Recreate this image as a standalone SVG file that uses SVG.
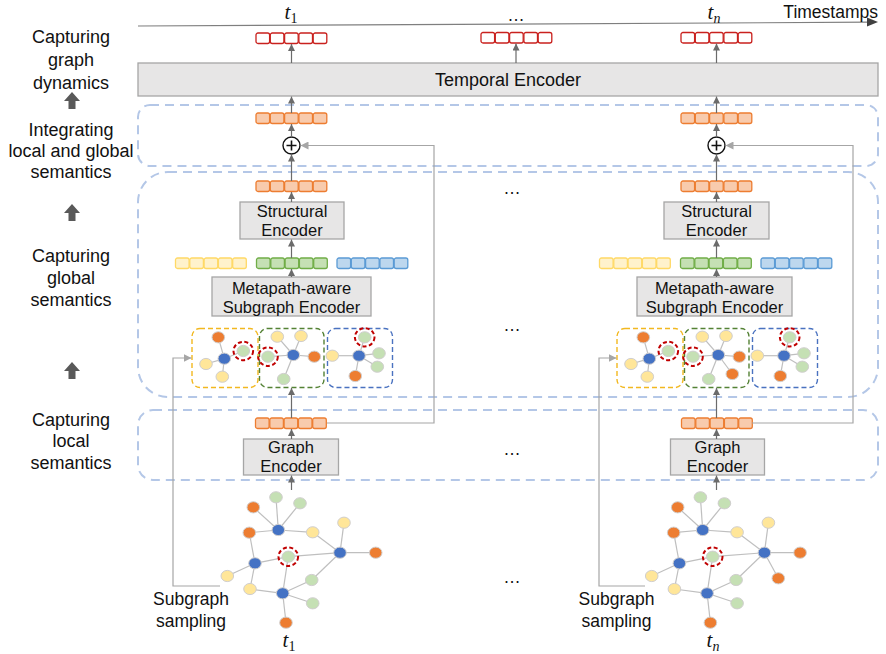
<svg xmlns="http://www.w3.org/2000/svg" xmlns:xlink="http://www.w3.org/1999/xlink" width="886" height="654" viewBox="0 0 886 654">
<style>
.lbl{font-family:"Liberation Sans",Arial,sans-serif;font-size:17.5px;fill:#111;text-anchor:middle}
.side{font-size:18px}
.btxt{font-family:"Liberation Sans",Arial,sans-serif;font-size:16.5px;fill:#111;text-anchor:middle}
.math{font-family:"Liberation Serif","Times New Roman",serif;font-size:21px;fill:#111;text-anchor:middle}
.box{fill:#e7e6e6;stroke:#a6a6a6;stroke-width:1.3}
.dash{fill:none;stroke:#b4c7e7;stroke-width:2;stroke-dasharray:9 6}
.conn{stroke:#6b6b6b;stroke-width:1.2;fill:none;marker-end:url(#ah)}
.fba{stroke:#a6a6a6;stroke-width:1.2;fill:none;marker-end:url(#ah2)}
.red{fill:#fff;stroke:#c9211e;stroke-width:1.3}
.org{fill:#f8cbad;stroke:#ed7d31;stroke-width:1.3}
.yel{fill:#fff2cc;stroke:#ffd966;stroke-width:1.3}
.grn{fill:#c5e0b4;stroke:#70ad47;stroke-width:1.3}
.blu{fill:#bdd7ee;stroke:#5b9bd5;stroke-width:1.3}
.edge{stroke:#bfbfbf;stroke-width:1.2}
.nO{fill:#ed7d31;stroke:#d0cece;stroke-width:1}
.nB{fill:#4472c4;stroke:#d0cece;stroke-width:1}
.nG{fill:#c5e0b4;stroke:#d0cece;stroke-width:1}
.nY{fill:#ffe699;stroke:#d0cece;stroke-width:1}
.ring{fill:none;stroke:#c00000;stroke-width:2;stroke-dasharray:4 2.5}
.sbY{fill:none;stroke:#f2b820;stroke-width:1.4;stroke-dasharray:5 3}
.sbG{fill:none;stroke:#548235;stroke-width:1.4;stroke-dasharray:5 3}
.sbB{fill:none;stroke:#4a72c0;stroke-width:1.4;stroke-dasharray:5 3}
.uparr{fill:#595959}
</style>
<defs>
<marker id="ah" viewBox="0 0 10 10" refX="10" refY="5" markerWidth="7" markerHeight="7" markerUnits="userSpaceOnUse" orient="auto"><path d="M0,0 L10,5 L0,10 Z" fill="#6b6b6b"/></marker>
<marker id="ah2" viewBox="0 0 10 10" refX="10" refY="5" markerWidth="8" markerHeight="8" markerUnits="userSpaceOnUse" orient="auto"><path d="M0,0 L10,5 L0,10 Z" fill="#a6a6a6"/></marker>
<g id="cells">
<rect x="0" y="0" width="13.6" height="10.5" rx="2"/>
<rect x="14.3" y="0" width="13.6" height="10.5" rx="2"/>
<rect x="28.6" y="0" width="13.6" height="10.5" rx="2"/>
<rect x="42.9" y="0" width="13.6" height="10.5" rx="2"/>
<rect x="57.2" y="0" width="13.6" height="10.5" rx="2"/>
</g>
<g id="subL">
<rect class="sbY" x="192" y="328.5" width="66" height="59" rx="8"/>
<rect class="sbG" x="259.5" y="328.5" width="64.5" height="59" rx="8"/>
<rect class="sbB" x="327.5" y="328.5" width="65" height="59" rx="8"/>
<g class="edge">
<line x1="224.3" y1="358.7" x2="218.3" y2="337.3"/><line x1="224.3" y1="358.7" x2="243.3" y2="351"/><line x1="224.3" y1="358.7" x2="206" y2="364"/><line x1="224.3" y1="358.7" x2="222.3" y2="376.7"/>
<line x1="293.3" y1="355" x2="277.3" y2="336.7"/><line x1="293.3" y1="355" x2="301" y2="336"/><line x1="293.3" y1="355" x2="268" y2="356.7"/><line x1="293.3" y1="355" x2="314.3" y2="356.7"/><line x1="293.3" y1="355" x2="283.7" y2="379"/>
<line x1="359" y1="355.7" x2="364.7" y2="337.3"/><line x1="359" y1="355.7" x2="332.3" y2="355.7"/><line x1="359" y1="355.7" x2="379" y2="353.3"/><line x1="359" y1="355.7" x2="377.3" y2="366.7"/><line x1="359" y1="355.7" x2="355.3" y2="376"/>
</g>
<ellipse class="nO" cx="218.3" cy="337.3" rx="6.3" ry="5.6"/><ellipse class="nB" cx="224.3" cy="358.7" rx="6.3" ry="5.6"/><ellipse class="nG" cx="243.3" cy="351" rx="6.3" ry="5.6"/><ellipse class="nY" cx="206" cy="364" rx="6.3" ry="5.6"/><ellipse class="nY" cx="222.3" cy="376.7" rx="6.3" ry="5.6"/>
<ellipse class="nY" cx="277.3" cy="336.7" rx="6.3" ry="5.6"/><ellipse class="nY" cx="301" cy="336" rx="6.3" ry="5.6"/><ellipse class="nG" cx="268" cy="356.7" rx="6.3" ry="5.6"/><ellipse class="nB" cx="293.3" cy="355" rx="6.3" ry="5.6"/><ellipse class="nO" cx="314.3" cy="356.7" rx="6.3" ry="5.6"/><ellipse class="nG" cx="283.7" cy="379" rx="6.3" ry="5.6"/>
<ellipse class="nG" cx="364.7" cy="337.3" rx="6.3" ry="5.6"/><ellipse class="nY" cx="332.3" cy="355.7" rx="6.3" ry="5.6"/><ellipse class="nB" cx="359" cy="355.7" rx="6.3" ry="5.6"/><ellipse class="nG" cx="379" cy="353.3" rx="6.3" ry="5.6"/><ellipse class="nG" cx="377.3" cy="366.7" rx="6.3" ry="5.6"/><ellipse class="nO" cx="355.3" cy="376" rx="6.3" ry="5.6"/>
<ellipse class="ring" cx="243.3" cy="351" rx="9.8" ry="9.2"/><ellipse class="ring" cx="268" cy="356.7" rx="9.8" ry="9.2"/><ellipse class="ring" cx="364.7" cy="337.3" rx="9.8" ry="9.2"/>
</g>
<g id="graphL">
<g class="edge">
<line x1="278.3" y1="530" x2="276" y2="497.3"/><line x1="278.3" y1="530" x2="300" y2="503.3"/><line x1="278.3" y1="530" x2="253.3" y2="507.3"/><line x1="278.3" y1="530" x2="249.3" y2="532.7"/><line x1="278.3" y1="530" x2="312.7" y2="532.3"/>
<line x1="312.7" y1="532.3" x2="340" y2="552.7"/><line x1="340" y1="552.7" x2="344" y2="522.7"/><line x1="340" y1="552.7" x2="375.7" y2="552.7"/><line x1="340" y1="552.7" x2="288.3" y2="556.7"/><line x1="340" y1="552.7" x2="311.7" y2="580"/>
<line x1="249.3" y1="532.7" x2="255" y2="563.3"/><line x1="255" y1="563.3" x2="288.3" y2="556.7"/><line x1="255" y1="563.3" x2="227.3" y2="576"/><line x1="255" y1="563.3" x2="250" y2="589"/>
<line x1="288.3" y1="556.7" x2="282.7" y2="593.3"/><line x1="282.7" y1="593.3" x2="250" y2="589"/><line x1="282.7" y1="593.3" x2="311.7" y2="580"/><line x1="282.7" y1="593.3" x2="312.7" y2="603.3"/><line x1="282.7" y1="593.3" x2="286" y2="622.7"/>
</g>
<ellipse class="nG" cx="276" cy="497.3" rx="6.3" ry="5.6"/><ellipse class="nG" cx="300" cy="503.3" rx="6.3" ry="5.6"/><ellipse class="nO" cx="253.3" cy="507.3" rx="6.3" ry="5.6"/><ellipse class="nB" cx="278.3" cy="530" rx="6.3" ry="5.6"/><ellipse class="nO" cx="249.3" cy="532.7" rx="6.3" ry="5.6"/><ellipse class="nY" cx="312.7" cy="532.3" rx="6.3" ry="5.6"/><ellipse class="nY" cx="344" cy="522.7" rx="6.3" ry="5.6"/><ellipse class="nB" cx="340" cy="552.7" rx="6.3" ry="5.6"/><ellipse class="nO" cx="375.7" cy="552.7" rx="6.3" ry="5.6"/><ellipse class="nG" cx="288.3" cy="556.7" rx="6.3" ry="5.6"/><ellipse class="nB" cx="255" cy="563.3" rx="6.3" ry="5.6"/><ellipse class="nY" cx="227.3" cy="576" rx="6.3" ry="5.6"/><ellipse class="nG" cx="311.7" cy="580" rx="6.3" ry="5.6"/><ellipse class="nY" cx="250" cy="589" rx="6.3" ry="5.6"/><ellipse class="nB" cx="282.7" cy="593.3" rx="6.3" ry="5.6"/><ellipse class="nG" cx="312.7" cy="603.3" rx="6.3" ry="5.6"/><ellipse class="nO" cx="286" cy="622.7" rx="6.3" ry="5.6"/>
<ellipse class="ring" cx="288.3" cy="556.7" rx="9.8" ry="9.2"/>
</g>
</defs>
<rect width="886" height="654" fill="#fff"/>

<g id="left-labels">
<text class="lbl side" x="71" y="43">Capturing</text><text class="lbl side" x="71" y="66">graph</text><text class="lbl side" x="71" y="89">dynamics</text>
<path class="uparr" d="M72,92 L80,101 L75.5,101 L75.5,109 L68.5,109 L68.5,101 L64,101 Z"/>
<text class="lbl side" x="71" y="136">Integrating</text><text class="lbl side" x="71" y="157">local and global</text><text class="lbl side" x="71" y="178">semantics</text>
<path class="uparr" d="M72,204 L80,213 L75.5,213 L75.5,221 L68.5,221 L68.5,213 L64,213 Z"/>
<text class="lbl side" x="71" y="262">Capturing</text><text class="lbl side" x="71" y="284">global</text><text class="lbl side" x="71" y="306">semantics</text>
<path class="uparr" d="M72,362 L80,371 L75.5,371 L75.5,379 L68.5,379 L68.5,371 L64,371 Z"/>
<text class="lbl side" x="71" y="426">Capturing</text><text class="lbl side" x="71" y="447">local</text><text class="lbl side" x="71" y="469">semantics</text>
</g>

<g id="timeline">
<line x1="138" y1="26" x2="870" y2="22.2" stroke="#7f7f7f" stroke-width="1.2"/>
<path d="M878,22 L867,17.5 L867,26.5 Z" fill="#404040"/>
<text class="lbl" x="878" y="18" style="text-anchor:end">Timestamps</text>
<text class="math" x="291" y="19"><tspan font-style="italic">t</tspan><tspan font-size="14" dy="4">1</tspan></text>
<text class="math" x="714" y="19"><tspan font-style="italic">t</tspan><tspan font-size="14" dy="4" font-style="italic">n</tspan></text>
<text class="lbl" x="516" y="21">…</text>
</g>

<g id="dashed-groups">
<rect class="dash" x="138" y="105" width="740" height="61" rx="12"/>
<rect class="dash" x="138" y="172" width="740" height="225" rx="30"/>
<rect class="dash" x="138" y="410" width="740" height="70" rx="15"/>
</g>

<g id="temporal-encoder">
<rect class="box" x="138" y="63" width="740" height="33"/>
<text class="btxt" x="508" y="86" style="font-size:18px">Temporal Encoder</text>
</g>

<g id="output-vectors">
<use xlink:href="#cells" x="256" y="33" class="red"/>
<use xlink:href="#cells" x="481" y="32.5" class="red"/>
<use xlink:href="#cells" x="681" y="32.5" class="red"/>
</g>

<g id="fused-vectors">
<use xlink:href="#cells" x="256" y="113" class="org"/>
<use xlink:href="#cells" x="681" y="113" class="org"/>
</g>

<g id="plus-left"><circle cx="291.5" cy="145.5" r="8.5" fill="#fff" stroke="#111" stroke-width="1.4"/><path d="M286.5,145.5 H296.5 M291.5,140.5 V150.5" stroke="#111" stroke-width="1.6"/></g>
<g id="plus-right"><circle cx="716.5" cy="145.5" r="8.5" fill="#fff" stroke="#111" stroke-width="1.4"/><path d="M711.5,145.5 H721.5 M716.5,140.5 V150.5" stroke="#111" stroke-width="1.6"/></g>

<g id="global-vectors">
<use xlink:href="#cells" x="256" y="181" class="org"/>
<use xlink:href="#cells" x="681" y="181" class="org"/>
</g>

<g id="structural-encoder-left"><rect class="box" x="240" y="202" width="104" height="37"/><text class="btxt" x="292" y="217">Structural</text><text class="btxt" x="292" y="236">Encoder</text></g>
<g id="structural-encoder-right"><rect class="box" x="664" y="202" width="105" height="37"/><text class="btxt" x="716.5" y="217">Structural</text><text class="btxt" x="716.5" y="236">Encoder</text></g>

<g id="metapath-vectors">
<use xlink:href="#cells" x="175.5" y="258" class="yel"/>
<use xlink:href="#cells" x="256.5" y="258" class="grn"/>
<use xlink:href="#cells" x="337" y="258" class="blu"/>
<use xlink:href="#cells" x="599.5" y="258" class="yel"/>
<use xlink:href="#cells" x="680.5" y="258" class="grn"/>
<use xlink:href="#cells" x="761" y="258" class="blu"/>
</g>

<g id="metapath-encoder-left"><rect class="box" x="212" y="277" width="159" height="39"/><text class="btxt" x="291.5" y="294">Metapath-aware</text><text class="btxt" x="291.5" y="313">Subgraph Encoder</text></g>
<g id="metapath-encoder-right"><rect class="box" x="637" y="277" width="155" height="39"/><text class="btxt" x="714.5" y="294">Metapath-aware</text><text class="btxt" x="714.5" y="313">Subgraph Encoder</text></g>

<g id="subgraphs-left"><use xlink:href="#subL"/></g>
<g id="subgraphs-right">
<line class="edge" x1="718.3" y1="355" x2="732.3" y2="374"/>
<use xlink:href="#subL" x="425"/>
<ellipse class="nO" cx="732.3" cy="374" rx="6.3" ry="5.6"/>
</g>

<g id="local-vectors">
<use xlink:href="#cells" x="255.5" y="418" class="org"/>
<use xlink:href="#cells" x="681.5" y="418" class="org"/>
</g>

<g id="graph-encoder-left"><rect class="box" x="243.5" y="439" width="95" height="36"/><text class="btxt" x="291" y="453">Graph</text><text class="btxt" x="291" y="472">Encoder</text></g>
<g id="graph-encoder-right"><rect class="box" x="670.5" y="439" width="94" height="36"/><text class="btxt" x="717.5" y="453">Graph</text><text class="btxt" x="717.5" y="472">Encoder</text></g>

<g id="graph-t1"><use xlink:href="#graphL"/></g>
<g id="graph-tn">
<line class="edge" x1="764.4" y1="552.7" x2="778.3" y2="578.3"/>
<use xlink:href="#graphL" x="424.4"/>
<ellipse class="nO" cx="778.3" cy="578.3" rx="6.3" ry="5.6"/>
</g>

<g id="bottom-labels">
<text class="lbl" x="191" y="605">Subgraph</text><text class="lbl" x="191" y="627">sampling</text>
<text class="lbl" x="616.5" y="605">Subgraph</text><text class="lbl" x="616.5" y="627">sampling</text>
<text class="math" x="289" y="647"><tspan font-style="italic">t</tspan><tspan font-size="14" dy="4">1</tspan></text>
<text class="math" x="713" y="647"><tspan font-style="italic">t</tspan><tspan font-size="14" dy="4" font-style="italic">n</tspan></text>
<text class="lbl" x="512" y="194">…</text>
<text class="lbl" x="512" y="331">…</text>
<text class="lbl" x="512" y="455">…</text>
<text class="lbl" x="512" y="583">…</text>
</g>

<g id="connectors">
<line class="conn" x1="291.5" y1="63" x2="291.5" y2="44"/>
<line class="conn" x1="516" y1="63" x2="516" y2="43.5"/>
<line class="conn" x1="716.5" y1="63" x2="716.5" y2="43.5"/>
<line class="conn" x1="291.5" y1="113" x2="291.5" y2="96.5"/>
<line class="conn" x1="716.5" y1="113" x2="716.5" y2="96.5"/>
<line class="conn" x1="291.5" y1="137" x2="291.5" y2="124"/>
<line class="conn" x1="716.5" y1="137" x2="716.5" y2="124"/>
<line class="conn" x1="291.5" y1="181" x2="291.5" y2="154.5"/>
<line class="conn" x1="716.5" y1="181" x2="716.5" y2="154.5"/>
<line class="conn" x1="291.5" y1="202" x2="291.5" y2="192"/>
<line class="conn" x1="716.5" y1="202" x2="716.5" y2="192"/>
<line class="conn" x1="291.5" y1="258" x2="291.5" y2="239.5"/>
<line class="conn" x1="716.5" y1="258" x2="716.5" y2="239.5"/>
<line class="conn" x1="291.5" y1="277" x2="291.5" y2="269"/>
<line class="conn" x1="716.5" y1="277" x2="716.5" y2="269"/>
<line class="conn" x1="291.5" y1="418" x2="291.5" y2="388"/>
<line class="conn" x1="716.5" y1="418" x2="716.5" y2="388"/>
<line class="conn" x1="291.5" y1="439" x2="291.5" y2="429"/>
<line class="conn" x1="716.5" y1="439" x2="716.5" y2="429"/>
<line class="conn" x1="291.5" y1="490" x2="291.5" y2="475.5"/>
<line class="conn" x1="716.5" y1="490" x2="716.5" y2="475.5"/>
<path class="fba" d="M327,423 H434 V145.5 H300.5"/>
<path class="fba" d="M752,423 H853 V145.5 H725.5"/>
<path class="fba" d="M220,586 H173 V358 H191.5"/>
<path class="fba" d="M645,586 H599 V358 H616.5"/>
</g>
</svg>
